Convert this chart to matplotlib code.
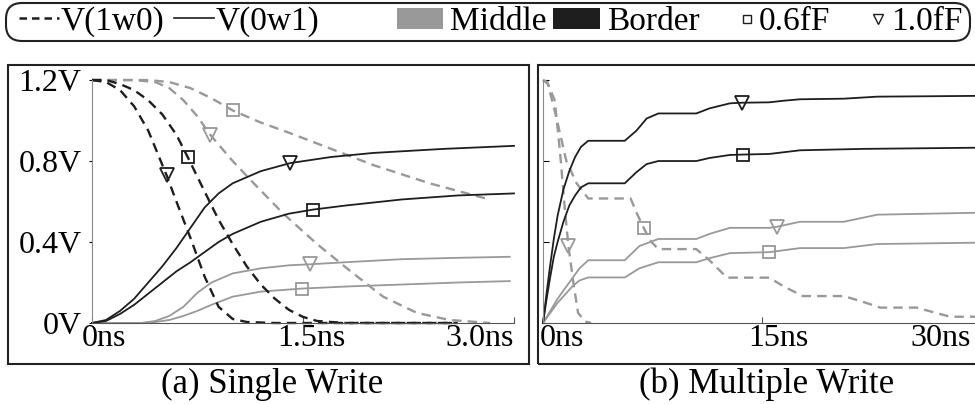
import numpy as np
import matplotlib
matplotlib.use("Agg")
import matplotlib.pyplot as plt
from matplotlib.lines import Line2D
from matplotlib.patches import Patch, Rectangle, FancyBboxPatch
from matplotlib.legend_handler import HandlerLine2D
from matplotlib.transforms import ScaledTranslation

plt.rcParams['font.family'] = ['Liberation Serif', 'DejaVu Serif']

# (a) single write, time in ns, voltage in V
sw_t_b10_w0 = [0, 0.1, 0.2, 0.3, 0.4, 0.53, 0.6, 0.7, 0.8, 0.9, 1.0, 1.1, 1.3, 1.6, 2.0, 2.6]
sw_v_b10_w0 = [1.2, 1.19, 1.15, 1.07, 0.95, 0.73, 0.6, 0.42, 0.23, 0.08, 0.02, 0.005, 0, 0, 0, 0]
sw_t_b06_w0 = [0, 0.1, 0.2, 0.3, 0.4, 0.5, 0.6, 0.68, 0.8, 0.9, 1.0, 1.1, 1.2, 1.3, 1.4, 1.5, 1.6, 1.8, 2.2, 2.6]
sw_v_b06_w0 = [1.2, 1.2, 1.18, 1.15, 1.1, 1.03, 0.93, 0.82, 0.65, 0.51, 0.39, 0.28, 0.19, 0.12, 0.065, 0.03, 0.01, 0, 0, 0]
sw_t_m10_w0 = [0, 0.3, 0.45, 0.55, 0.65, 0.75, 0.84, 1.0, 1.15, 1.36, 1.6, 1.83, 2.07, 2.31, 2.54, 2.83]
sw_v_m10_w0 = [1.2, 1.2, 1.19, 1.16, 1.1, 1.02, 0.93, 0.8, 0.69, 0.54, 0.39, 0.26, 0.13, 0.05, 0.015, 0]
sw_t_m06_w0 = [0, 0.4, 0.55, 0.7, 0.85, 1.0, 1.2, 1.4, 1.7, 2.0, 2.4, 2.8]
sw_v_m06_w0 = [1.2, 1.2, 1.19, 1.16, 1.11, 1.05, 0.99, 0.94, 0.86, 0.78, 0.69, 0.615]

sw_t_b10_w1 = [0, 0.1, 0.2, 0.3, 0.4, 0.5, 0.6, 0.7, 0.8, 0.9, 1.0, 1.2, 1.41, 1.7, 2.0, 2.5, 3.0]
sw_v_b10_w1 = [0, 0.015, 0.06, 0.12, 0.2, 0.28, 0.37, 0.47, 0.57, 0.64, 0.69, 0.75, 0.79, 0.82, 0.84, 0.86, 0.875]
sw_t_b06_w1 = [0, 0.1, 0.2, 0.3, 0.4, 0.5, 0.6, 0.7, 0.8, 0.9, 1.0, 1.2, 1.4, 1.57, 1.8, 2.2, 2.6, 3.0]
sw_v_b06_w1 = [0, 0.01, 0.045, 0.09, 0.145, 0.2, 0.255, 0.3, 0.35, 0.4, 0.44, 0.5, 0.54, 0.56, 0.58, 0.61, 0.63, 0.64]
sw_t_m10_w1 = [0, 0.35, 0.45, 0.55, 0.65, 0.75, 0.85, 1.0, 1.2, 1.4, 1.55, 1.8, 2.2, 2.6, 2.97]
sw_v_m10_w1 = [0, 0, 0.01, 0.035, 0.08, 0.15, 0.2, 0.245, 0.27, 0.285, 0.29, 0.3, 0.315, 0.322, 0.327]
sw_t_m06_w1 = [0, 0.35, 0.45, 0.55, 0.65, 0.75, 0.85, 1.0, 1.2, 1.49, 1.8, 2.2, 2.6, 2.97]
sw_v_m06_w1 = [0, 0, 0.005, 0.015, 0.035, 0.06, 0.09, 0.13, 0.155, 0.17, 0.18, 0.19, 0.2, 0.207]

# (b) multiple write
mw_t_m10_w0 = [0, 0.35, 0.8, 1.16, 1.5, 1.74, 2.08, 2.4, 2.9, 3.3]
mw_v_m10_w0 = [1.2, 1.18, 1.1, 0.85, 0.56, 0.38, 0.2, 0.05, 0.007, 0]
mw_t_m06_w0 = [0, 0.3, 0.9, 1.6, 2.3, 3.1, 6.0, 6.5, 6.9, 7.3, 7.9, 10.5, 11.4, 12.6, 15.5, 16.5, 17.8,
               20.6, 21.9, 23.1, 25.6, 27.0, 27.9, 30]
mw_v_m06_w0 = [1.2, 1.19, 1.02, 0.8, 0.69, 0.615, 0.615, 0.53, 0.47, 0.41, 0.365, 0.365, 0.31, 0.224, 0.224,
               0.18, 0.133, 0.133, 0.105, 0.076, 0.076, 0.048, 0.031, 0.031]

mw_t_b10_w1 = [0, 0.25, 0.5, 0.75, 1.0, 1.4, 1.8, 2.2, 2.6, 3.1, 5.6, 6.4, 7.1, 7.9, 10.5, 11.4, 12.8, 13.6,
               15.5, 16.5, 17.6, 20.6, 22.9, 30]
mw_v_b10_w1 = [0, 0.15, 0.29, 0.42, 0.53, 0.66, 0.75, 0.82, 0.87, 0.9, 0.9, 0.95, 1.01, 1.035, 1.035, 1.06,
               1.085, 1.088, 1.09, 1.098, 1.105, 1.108, 1.118, 1.122]
mw_t_b06_w1 = [0, 0.25, 0.5, 0.75, 1.0, 1.4, 1.8, 2.2, 2.6, 3.1, 5.6, 6.4, 7.1, 7.9, 10.5, 11.4, 12.8, 13.7,
               15.5, 17.6, 21.9, 30]
mw_v_b06_w1 = [0, 0.12, 0.23, 0.33, 0.4, 0.5, 0.58, 0.63, 0.67, 0.69, 0.69, 0.745, 0.785, 0.8, 0.8, 0.815,
               0.83, 0.832, 0.835, 0.853, 0.86, 0.866]
mw_t_m10_w1 = [0, 0.5, 1.0, 1.5, 2.0, 2.5, 3.1, 5.6, 6.6, 7.9, 10.5, 11.4, 12.8, 15.5, 16.0, 17.6, 20.6, 22.9, 30]
mw_v_m10_w1 = [0, 0.06, 0.12, 0.17, 0.22, 0.27, 0.31, 0.31, 0.38, 0.415, 0.415, 0.44, 0.47, 0.47, 0.475, 0.5,
               0.5, 0.535, 0.545]
mw_t_m06_w1 = [0, 0.5, 1.0, 1.5, 2.0, 2.5, 3.1, 5.6, 6.6, 7.9, 10.5, 11.4, 12.8, 15.5, 17.6, 20.6, 22.9, 30]
mw_v_m06_w1 = [0, 0.05, 0.1, 0.14, 0.18, 0.21, 0.225, 0.225, 0.27, 0.3, 0.3, 0.32, 0.345, 0.35, 0.37, 0.37,
               0.39, 0.397]

yticks = [0, 0.4, 0.8, 1.2]
ylabels = ['0V', '0.4V', '0.8V', '1.2V']
sw_xticks, sw_xlabels = [0, 1.5, 3.0], ['0ns', '1.5ns', '3.0ns']
mw_xticks, mw_xlabels = [0, 15, 30], ['0ns', '15ns', '30ns']
line_labels = ['V(1w0)', 'V(0w1)']
other_labels = ['Middle', 'Border', '0.6fF', '1.0fF']

BLACK = '#1e1e1e'
GRAY = '#999999'
FS = 23
LFS = 24

W, H = 975, 404
fig = plt.figure(figsize=(W / 100, H / 100), dpi=100)


def px(x0, y0, x1, y1):
    return [x0 / W, 1 - y1 / H, (x1 - x0) / W, (y1 - y0) / H]


def curve(ax, t, v, color, dashed, marker, mark_idx):
    if dashed:
        ls, lw = (0, (4, 2.6)), 1.7
    else:
        ls, lw = '-', 1.3
    ax.plot(t, v, color=color, lw=lw, ls=ls, marker=marker, markevery=[mark_idx],
            ms=8.5 if marker == 's' else 9.5, mfc='none', mec=color, mew=1.3, clip_on=False)


def style(ax, xticks, xlabels, show_ylabels, offsets):
    for s in ['top', 'right']:
        ax.spines[s].set_visible(False)
    ax.spines['left'].set_color('#8a8a8a')
    ax.spines['bottom'].set_color('#555555')
    ax.spines['left'].set_bounds(0, 1.2)
    ax.set_ylim(0, 1.22)
    ax.set_yticks(yticks)
    if show_ylabels:
        ax.set_yticklabels(ylabels)
        ax.tick_params(axis='y', direction='out', length=2.5, pad=5, labelsize=FS)
    else:
        ax.set_yticklabels([])
        ax.tick_params(axis='y', direction='in', length=4)
    ax.set_xticks(xticks)
    ax.set_xticklabels(xlabels)
    ax.tick_params(axis='x', direction='in', length=4, pad=1, labelsize=FS, color='#555555')
    for lbl, (ha, dx) in zip(ax.get_xticklabels(), offsets):
        lbl.set_ha(ha)
        lbl.set_transform(lbl.get_transform() + ScaledTranslation(dx / 100, 0, fig.dpi_scale_trans))


# (a) single write
ax1 = fig.add_axes(px(92, 76, 514, 323))
ax1.set_xlim(0, 3.0)
curve(ax1, sw_t_m06_w0, sw_v_m06_w0, GRAY, True, 's', 5)
curve(ax1, sw_t_m10_w0, sw_v_m10_w0, GRAY, True, 'v', 6)
curve(ax1, sw_t_m10_w1, sw_v_m10_w1, GRAY, False, 'v', 10)
curve(ax1, sw_t_m06_w1, sw_v_m06_w1, GRAY, False, 's', 9)
curve(ax1, sw_t_b10_w0, sw_v_b10_w0, BLACK, True, 'v', 5)
curve(ax1, sw_t_b06_w0, sw_v_b06_w0, BLACK, True, 's', 7)
curve(ax1, sw_t_b10_w1, sw_v_b10_w1, BLACK, False, 'v', 12)
curve(ax1, sw_t_b06_w1, sw_v_b06_w1, BLACK, False, 's', 13)
style(ax1, sw_xticks, sw_xlabels, True, [('left', -10), ('center', 8), ('right', 0)])

# (b) multiple write
ax2 = fig.add_axes(px(543, 76, 981, 323))
ax2.set_xlim(0, 30)
curve(ax2, mw_t_m06_w0, mw_v_m06_w0, GRAY, True, 's', 8)
curve(ax2, mw_t_m10_w0, mw_v_m10_w0, GRAY, True, 'v', 5)
curve(ax2, mw_t_m10_w1, mw_v_m10_w1, GRAY, False, 'v', 14)
curve(ax2, mw_t_m06_w1, mw_v_m06_w1, GRAY, False, 's', 13)
curve(ax2, mw_t_b10_w1, mw_v_b10_w1, BLACK, False, 'v', 17)
curve(ax2, mw_t_b06_w1, mw_v_b06_w1, BLACK, False, 's', 17)
style(ax2, mw_xticks, mw_xlabels, False, [('left', -3), ('center', 16), ('right', -10)])

# frames around the panels
for x0, x1 in [(8, 529), (538, 990)]:
    fig.patches.append(Rectangle((x0 / W, 1 - 364 / H), (x1 - x0) / W, 299 / H, transform=fig.transFigure,
                                 fill=False, ec='#222222', lw=1.5))

fig.text(272 / W, 1 - 384 / H, '(a) Single Write', ha='center', va='center', fontsize=25)
fig.text(767 / W, 1 - 384 / H, '(b) Multiple Write', ha='center', va='center', fontsize=25)


class MarkerRight(HandlerLine2D):
    # the single marker sits mid-line, so centre the (invisible) line near the right end
    def get_xdata(self, legend, xdescent, ydescent, width, height, fontsize):
        xm = -xdescent + width - 4
        return [xm - 1, xm + 1], [xm]


# rounded legend box across the top
fig.patches.append(FancyBboxPatch((0.06, (H - 41) / 100), 9.64, 0.38, transform=fig.dpi_scale_trans,
                                  boxstyle='round,pad=0,rounding_size=0.16', fill=False,
                                  ec='#222222', lw=1.5))

line_handles = [
    Line2D([], [], color=BLACK, lw=1.8, ls=(0, (3, 2))),
    Line2D([], [], color=BLACK, lw=1.2),
]
leg1 = fig.legend(line_handles, line_labels, loc='center left', ncol=2,
                  bbox_to_anchor=(19 / W, 1 - 22 / H), fontsize=LFS, frameon=False,
                  handlelength=1.2, handletextpad=0.05, columnspacing=0.3, borderpad=0, borderaxespad=0)

sq = Line2D([], [], ls='none', marker='s', ms=6, mfc='none', mec=BLACK, mew=1)
tri = Line2D([], [], ls='none', marker='v', ms=7, mfc='none', mec=BLACK, mew=1)
other_handles = [Patch(fc=GRAY, ec='none'), Patch(fc=BLACK, ec='none'), sq, tri]
leg2 = fig.legend(other_handles, other_labels, loc='center right', ncol=4,
                  bbox_to_anchor=(962 / W, 1 - 22 / H), fontsize=LFS, frameon=False,
                  handlelength=1.4, handleheight=0.6, handletextpad=0.2, columnspacing=0.2,
                  borderpad=0, borderaxespad=0,
                  handler_map={sq: MarkerRight(numpoints=1), tri: MarkerRight(numpoints=1)})

fig.savefig('out.png', dpi=100)
